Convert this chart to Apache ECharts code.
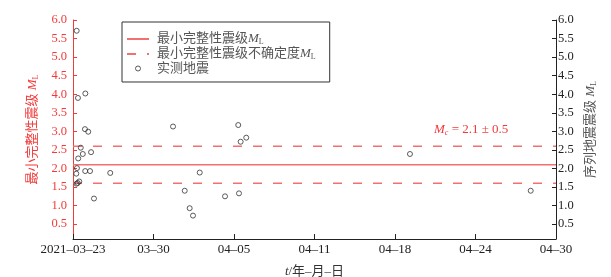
<!DOCTYPE html>
<html><head><meta charset="utf-8">
<script src="https://cdn.jsdelivr.net/npm/echarts@6/dist/echarts.min.js"></script>
<style>html,body{margin:0;padding:0;background:#fff}#c{width:611px;height:277px}</style>
</head><body><div id="c"></div>
<script>
// X values: days after 2021-03-23 00:00
var xTickLabels = ['2021–03–23', '03–30', '04–05', '04–11', '04–18', '04–24', '04–30'];
var xSpanDays = 38;
var yTicks = [0.5, 1.0, 1.5, 2.0, 2.5, 3.0, 3.5, 4.0, 4.5, 5.0, 5.5, 6.0];
var quakeDays = [0.29, 0.39, 0.97, 0.94, 1.20, 0.61, 0.41, 0.77, 1.42, 0.31, 0.26, 0.96, 1.34, 2.93, 0.49, 0.37, 0.28, 1.65,
                 7.87, 13.00, 13.19, 13.63, 9.97, 8.79, 9.18, 9.44, 11.96, 13.06, 26.51, 36.01];
var quakeMag  = [5.71, 3.90, 4.02, 3.06, 2.99, 2.56, 2.27, 2.39, 2.44, 2.01, 1.86, 1.93, 1.93, 1.88, 1.65, 1.61, 1.59, 1.19,
                 3.13, 3.17, 2.72, 2.83, 1.89, 1.40, 0.93, 0.73, 1.25, 1.33, 2.39, 1.40];
var mc = 2.1;
var mcUnc = 0.5;

var serif = "'Liberation Serif', 'Noto Sans CJK SC', serif";
var red = '#f23a3a';
var lineRed = '#f27070';
var quakes = quakeDays.map(function (d, i) { return [d, quakeMag[i]]; });
var tickStep = xSpanDays / (xTickLabels.length - 1);
var xTickPos = xTickLabels.map(function (_, i) { return i * tickStep; });

var chart = echarts.init(document.getElementById('c'));
var richBase = {
  a: {fontFamily: serif, fontSize: 13, color: '#555', lineHeight: 14},
  i: {fontFamily: serif, fontSize: 13, fontStyle: 'italic', color: '#555', lineHeight: 14},
  s: {fontFamily: serif, fontSize: 8, color: '#555', verticalAlign: 'bottom', lineHeight: 14, padding: [6, 0, 0, 0]}
};
chart.setOption({
  animation: false,
  grid: {left: 73, right: 55, top: 20, bottom: 38, containLabel: false, outerBoundsMode: 'none'},
  legend: {
    orient: 'vertical', left: 122, top: 22,
    padding: [10, 14, 7, 4], itemWidth: 22, itemHeight: 5, itemGap: 1,
    borderColor: '#333', borderWidth: 1,
    data: [
      {name: 'mc', itemStyle: {opacity: 0}},
      {name: 'unc', itemStyle: {opacity: 0}},
      {name: 'eq', itemStyle: {borderWidth: 1, borderColor: '#333', color: 'rgba(255,255,255,0)'}}
    ],
    formatter: function (n) {
      if (n === 'mc') return '{a|最小完整性震级}{i|M}{s|L}';
      if (n === 'unc') return '{a|最小完整性震级不确定度}{i|M}{s|L}';
      return '{a|实测地震}';
    },
    textStyle: {padding: [0, 0, 0, 3], rich: richBase}
  },
  xAxis: {
    type: 'value', min: 0, max: xSpanDays,
    name: '{i|t}{a|/年–月–日}', nameLocation: 'middle', nameGap: 26,
    nameTextStyle: {rich: {
      i: {fontFamily: serif, fontSize: 13, fontStyle: 'italic', color: '#333'},
      a: {fontFamily: serif, fontSize: 13, color: '#333'}
    }},
    axisLine: {lineStyle: {color: '#222', width: 1}},
    axisTick: {inside: true, length: 5, customValues: xTickPos, lineStyle: {color: '#222'}},
    axisLabel: {customValues: xTickPos, margin: 4, fontFamily: serif, fontSize: 13, color: '#222',
      formatter: function (v) { return xTickLabels[Math.round(v / tickStep)]; }},
    splitLine: {show: false}
  },
  yAxis: [{
    type: 'value', min: 0.1, max: 6, position: 'left',
    name: '{a|最小完整性震级 }{i|M}{s|L}', nameLocation: 'middle', nameGap: 33, nameRotate: 90,
    nameTextStyle: {rich: {
      a: {fontFamily: serif, fontSize: 13, color: red},
      i: {fontFamily: serif, fontSize: 13, fontStyle: 'italic', color: red},
      s: {fontFamily: serif, fontSize: 8, color: red, verticalAlign: 'bottom', padding: [6, 0, 0, 0]}
    }},
    axisLine: {show: true, lineStyle: {color: red, width: 1}},
    axisTick: {show: true, inside: true, length: 4, customValues: yTicks, lineStyle: {color: red}},
    axisLabel: {customValues: yTicks, margin: 6, fontFamily: serif, fontSize: 12.5, color: red,
      formatter: function (v) { return v.toFixed(1); }},
    splitLine: {show: false}
  }, {
    type: 'value', min: 0.1, max: 6, position: 'right',
    name: '{a|序列地震震级 }{i|M}{s|L}', nameLocation: 'middle', nameGap: 24, nameRotate: 90,
    nameTextStyle: {rich: {
      a: {fontFamily: serif, fontSize: 13, color: '#555'},
      i: {fontFamily: serif, fontSize: 13, fontStyle: 'italic', color: '#555'},
      s: {fontFamily: serif, fontSize: 8, color: '#555', verticalAlign: 'bottom', padding: [6, 0, 0, 0]}
    }},
    axisLine: {show: true, lineStyle: {color: '#222', width: 1}},
    axisTick: {show: true, inside: true, length: 4, customValues: yTicks, lineStyle: {color: '#222'}},
    axisLabel: {customValues: yTicks, margin: 2, fontFamily: serif, fontSize: 12.5, color: '#222',
      formatter: function (v) { return v.toFixed(1); }},
    splitLine: {show: false}
  }],
  graphic: [{
    type: 'text', left: 434, top: 123,
    style: {
      text: '{i|M}{s|c}{a| = 2.1 ± 0.5}',
      rich: {
        i: {fontFamily: serif, fontSize: 13, fontStyle: 'italic', fill: red},
        s: {fontFamily: serif, fontSize: 8, fontStyle: 'italic', fill: red, verticalAlign: 'bottom', padding: [6, 0, 0, 0]},
        a: {fontFamily: serif, fontSize: 13, fill: red}
      }
    }
  }],
  series: [{
    name: 'mc', type: 'line', yAxisIndex: 0, symbol: 'none',
    lineStyle: {color: lineRed, width: 1.5},
    itemStyle: {color: lineRed},
    data: [[0, mc], [xSpanDays, mc]]
  }, {
    name: 'unc', type: 'line', yAxisIndex: 0, symbol: 'none',
    lineStyle: {color: lineRed, width: 1.5, type: [9, 11]},
    itemStyle: {color: lineRed},
    data: [[0, mc + mcUnc], [xSpanDays, mc + mcUnc]]
  }, {
    name: 'unc2', type: 'line', yAxisIndex: 0, symbol: 'none',
    lineStyle: {color: lineRed, width: 1.5, type: [9, 11]},
    data: [[0, mc - mcUnc], [xSpanDays, mc - mcUnc]]
  }, {
    name: 'eq', type: 'scatter', yAxisIndex: 1,
    symbol: 'circle', symbolSize: 5,
    itemStyle: {color: 'rgba(255,255,255,0)', borderColor: '#333', borderWidth: 1},
    data: quakes, z: 5
  }]
});
</script></body></html>
